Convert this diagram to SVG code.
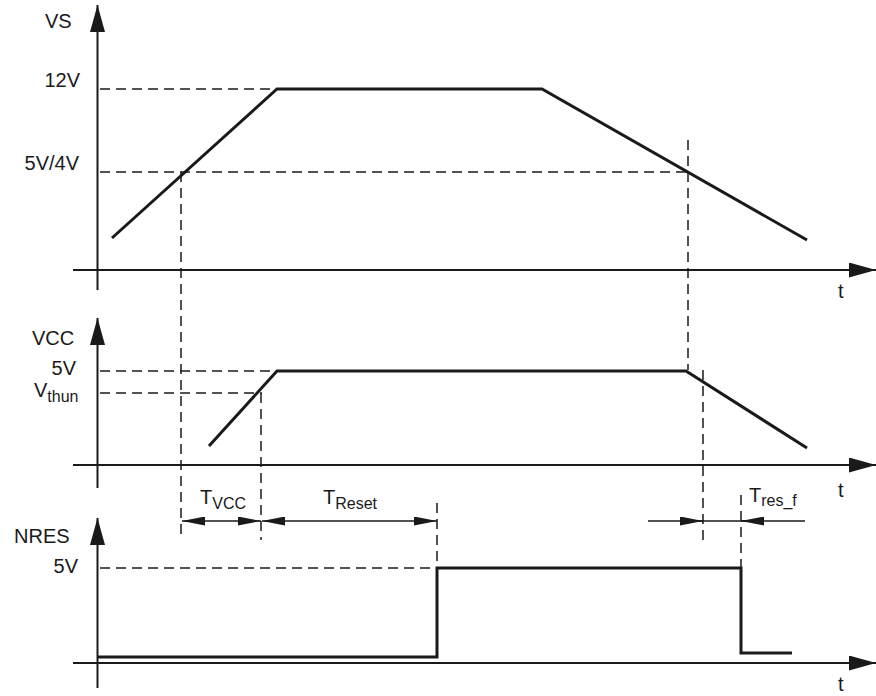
<svg xmlns="http://www.w3.org/2000/svg" width="876" height="696" viewBox="0 0 876 696">
<defs>
<style>
.ax{stroke:#1a1a1a;stroke-width:2;fill:none}
.wv{stroke:#1a1a1a;stroke-width:3;fill:none;stroke-linejoin:miter}
.da{stroke:#1a1a1a;stroke-width:1.5;fill:none;stroke-dasharray:10 6}
.dm{stroke:#1a1a1a;stroke-width:1.5;fill:none}
.lb{font-family:"Liberation Sans",Arial,sans-serif;font-size:20px;fill:#1a1a1a}
.sb{font-size:16px}
</style>
<marker id="axArr" markerUnits="userSpaceOnUse" viewBox="0 0 27 15" markerWidth="27" markerHeight="15" refX="27" refY="7.5" orient="auto">
<path d="M0,0 L27,7.5 L0,15 Z" fill="#1a1a1a"/>
</marker>
<marker id="dmArr" markerUnits="userSpaceOnUse" viewBox="0 0 23 9" markerWidth="23" markerHeight="9" refX="23" refY="4.5" orient="auto-start-reverse">
<path d="M0,0 L23,4.5 L0,9 Z" fill="#1a1a1a"/>
</marker>
</defs>
<rect width="876" height="696" fill="#ffffff"/>

<g id="vs-panel">
<line class="ax" x1="97.5" y1="290" x2="97.5" y2="5" marker-end="url(#axArr)"/>
<line class="ax" x1="73" y1="270" x2="876" y2="270" marker-end="url(#axArr)"/>
<text class="lb" x="45" y="28">VS</text>
<text class="lb" x="80" y="87" text-anchor="end">12V</text>
<text class="lb" x="79" y="170" text-anchor="end">5V/4V</text>
<text class="lb" x="838" y="298">t</text>
<polyline class="wv" points="112,238 277,89 542,89 807,240"/>
</g>

<g id="vcc-panel">
<line class="ax" x1="97.5" y1="488" x2="97.5" y2="318" marker-end="url(#axArr)"/>
<line class="ax" x1="73" y1="465" x2="876" y2="465" marker-end="url(#axArr)"/>
<text class="lb" x="32" y="345">VCC</text>
<text class="lb" x="76" y="375" text-anchor="end">5V</text>
<text class="lb" x="34" y="397">V<tspan class="sb" dy="5">thun</tspan></text>
<text class="lb" x="838" y="497">t</text>
<polyline class="wv" points="209,446 277,371 686,371 807,448"/>
</g>

<g id="nres-panel">
<line class="ax" x1="97.5" y1="688" x2="97.5" y2="518" marker-end="url(#axArr)"/>
<line class="ax" x1="73" y1="663" x2="876" y2="663" marker-end="url(#axArr)"/>
<text class="lb" x="14" y="543">NRES</text>
<text class="lb" x="78" y="573" text-anchor="end">5V</text>
<text class="lb" x="838" y="691">t</text>
<polyline class="wv" points="97,657 437,657 437,568 741,568 741,653 792,653"/>
</g>

<g id="guides">
<line class="da" x1="100" y1="89" x2="277" y2="89"/>
<line class="da" x1="100" y1="172" x2="688" y2="172"/>
<line class="da" x1="100" y1="371" x2="277" y2="371"/>
<line class="da" x1="100" y1="393" x2="262" y2="393"/>
<line class="da" x1="100" y1="568" x2="437" y2="568"/>
<line class="da" x1="181" y1="172" x2="181" y2="540"/>
<line class="da" x1="261" y1="393" x2="261" y2="540"/>
<line class="da" x1="437" y1="503" x2="437" y2="568"/>
<line class="da" x1="688" y1="140" x2="688" y2="370"/>
<line class="da" x1="703" y1="370" x2="703" y2="542"/>
<line class="da" x1="741" y1="495" x2="741" y2="568"/>
</g>

<g id="timings">
<line class="dm" x1="182" y1="521" x2="261" y2="521" marker-start="url(#dmArr)" marker-end="url(#dmArr)"/>
<line class="dm" x1="262" y1="521" x2="437" y2="521" marker-start="url(#dmArr)" marker-end="url(#dmArr)"/>
<line class="dm" x1="648" y1="521" x2="805" y2="521"/>
<line class="dm" x1="680" y1="521" x2="703" y2="521" marker-end="url(#dmArr)"/>
<line class="dm" x1="764" y1="521" x2="741" y2="521" marker-end="url(#dmArr)"/>
<text class="lb" x="200" y="504">T<tspan class="sb" dy="5">VCC</tspan></text>
<text class="lb" x="323" y="504">T<tspan class="sb" dy="5">Reset</tspan></text>
<text class="lb" x="749" y="502">T<tspan class="sb" dy="4">res_f</tspan></text>
</g>
</svg>
